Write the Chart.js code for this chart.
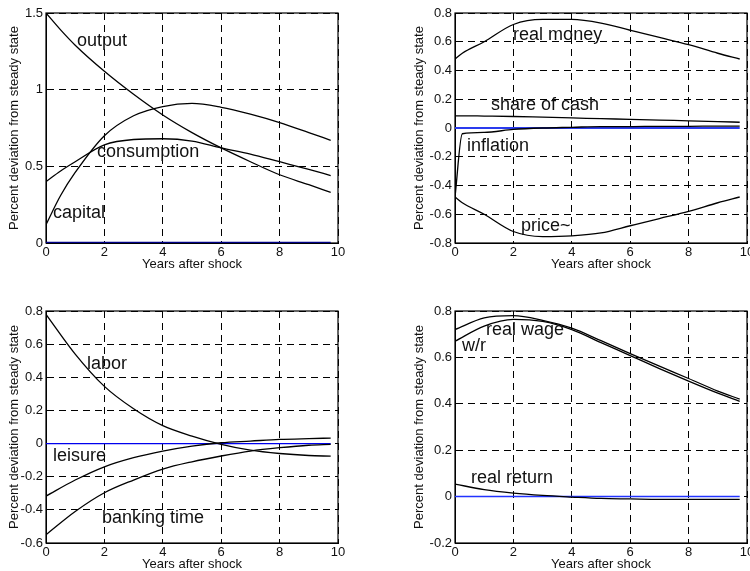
<!DOCTYPE html>
<html>
<head>
<meta charset="utf-8">
<script src="https://cdn.jsdelivr.net/npm/chart.js@4.4.1/dist/chart.umd.min.js"></script>
<style>
  html, body { margin: 0; padding: 0; background: #fff; overflow: hidden; width: 750px; height: 571px; }
  canvas { position: absolute; }
</style>
</head>
<body>
<canvas id="c1" style="left:0px;top:0px"></canvas>
<canvas id="c2" style="left:395px;top:0px"></canvas>
<canvas id="c3" style="left:0px;top:298px"></canvas>
<canvas id="c4" style="left:395px;top:298px"></canvas>
<script>
// ---- data (percent deviation from steady state, by year after shock) ----
const yearsA = [0, 0.5, 1, 2, 3, 4, 5, 6, 7, 8, 9, 9.75];
const output      = [1.5, 1.39, 1.29, 1.12, 0.97, 0.835, 0.72, 0.62, 0.53, 0.445, 0.38, 0.33];
const consumption = [0.40, 0.47, 0.53, 0.64, 0.675, 0.68, 0.665, 0.62, 0.58, 0.53, 0.48, 0.44];
const capital     = [0.12, 0.31, 0.46, 0.70, 0.83, 0.89, 0.91, 0.885, 0.84, 0.785, 0.72, 0.67];

const yearsB = [0, 0.25, 1, 2, 3, 4, 5, 6, 7, 8, 9, 9.75];
const realMoney   = [0.48, 0.52, 0.60, 0.72, 0.755, 0.755, 0.73, 0.68, 0.63, 0.58, 0.52, 0.48];
const shareCash   = [0.085, 0.085, 0.083, 0.08, 0.075, 0.07, 0.065, 0.06, 0.055, 0.05, 0.045, 0.04];
const inflation   = [-0.48, -0.04, -0.03, -0.01, 0.0, 0.005, 0.01, 0.01, 0.012, 0.012, 0.013, 0.013];
const price       = [-0.48, -0.52, -0.60, -0.72, -0.755, -0.75, -0.73, -0.68, -0.63, -0.58, -0.52, -0.48];

const yearsC = [0, 1, 2, 3, 4, 5, 6, 7, 8, 9, 9.75];
const labor       = [0.78, 0.54, 0.345, 0.21, 0.108, 0.045, -0.005, -0.04, -0.06, -0.072, -0.076];
const leisure     = [-0.317, -0.22, -0.14, -0.085, -0.045, -0.015, 0.005, 0.015, 0.025, 0.03, 0.033];
const banking     = [-0.55, -0.41, -0.297, -0.22, -0.154, -0.11, -0.075, -0.045, -0.025, -0.01, -0.005];

const yearsD = [0, 1, 2, 3, 4, 5, 6, 7, 8, 9, 9.75];
const realWage    = [0.72, 0.77, 0.78, 0.76, 0.726, 0.672, 0.616, 0.562, 0.509, 0.455, 0.42];
const wOverR      = [0.67, 0.735, 0.764, 0.755, 0.72, 0.664, 0.608, 0.552, 0.498, 0.446, 0.41];
const realReturn  = [0.054, 0.03, 0.015, 0.005, -0.002, -0.008, -0.01, -0.012, -0.012, -0.012, -0.012];

// curve names placed inside the plots: [text, year, value]
const notesA = [["output", 1.06, 1.32], ["consumption", 1.75, 0.594], ["capital", 0.24, 0.196]];
const notesB = [["real money", 1.99, 0.647], ["share of cash", 1.23, 0.16], ["inflation", 0.41, -0.125], ["price~", 2.26, -0.68]];
const notesC = [["labor", 1.40, 0.48], ["leisure", 0.24, -0.075], ["banking time", 1.92, -0.45]];
const notesD = [["real wage", 1.06, 0.718], ["w/r", 0.24, 0.649], ["real return", 0.55, 0.08]];

const FONT = "'Liberation Sans', Arial, sans-serif";

function pts(xs, ys) { return xs.map((x, i) => ({ x, y: ys[i] })); }

function makePanel(id, opts) {
  const el = document.getElementById(id);
  el.width = opts.w; el.height = opts.h;
  el.style.width = opts.w + "px"; el.style.height = opts.h + "px";

  const sets = opts.series.map(ys => ({
    data: pts(opts.years, ys),
    borderColor: "#000",
    borderWidth: 1.3,
    pointRadius: 0,
    cubicInterpolationMode: "monotone",
    fill: false,
  }));
  // steady state line
  sets.push({
    data: pts(opts.years, opts.years.map(() => 0)),
    borderColor: opts.zeroColor,
    borderWidth: opts.zeroWidth,
    pointRadius: 0,
    fill: false,
  });

  const notes = opts.notes;
  const extras = {
    id: "extras",
    beforeDatasetsDraw(chart) {
      // box round the plot area
      const { ctx, chartArea: a } = chart;
      ctx.save();
      ctx.strokeStyle = "#000";
      ctx.lineWidth = 1.2;
      ctx.strokeRect(a.left, a.top, a.right - a.left, a.bottom - a.top);
      ctx.restore();
    },
    afterDatasetsDraw(chart) {
      const { ctx, scales } = chart;
      ctx.save();
      ctx.fillStyle = "#111";
      ctx.font = "18px " + FONT;
      ctx.textAlign = "left";
      ctx.textBaseline = "middle";
      notes.forEach(([t, x, y]) => {
        ctx.fillText(t, scales.x.getPixelForValue(x), scales.y.getPixelForValue(y));
      });
      ctx.restore();
    },
  };

  return new Chart(el.getContext("2d"), {
    type: "line",
    data: { datasets: sets },
    plugins: [extras],
    options: {
      responsive: false,
      animation: false,
      layout: { padding: { top: 13, right: 20, bottom: 0, left: 0 } },
      plugins: { legend: { display: false }, tooltip: { enabled: false } },
      scales: {
        x: {
          type: "linear",
          min: 0, max: 10,
          afterFit: s => { s.height = 29; },
          ticks: { stepSize: 2, color: "#111", font: { family: FONT, size: 13 }, padding: 2, maxRotation: 0 },
          grid: { color: "#000", lineWidth: 1, drawTicks: false },
          border: { color: "#000", dash: [7, 5] },
          title: { display: true, text: "Years after shock", color: "#111",
                   font: { family: FONT, size: 13 }, padding: { top: 0, bottom: 0 } },
        },
        y: {
          min: opts.ymin, max: opts.ymax,
          afterFit: s => { s.width = opts.yw; },
          ticks: { stepSize: opts.step, color: "#111", font: { family: FONT, size: 13 }, padding: 3,
                   callback: v => String(+v.toFixed(1)) },
          grid: { color: "#000", lineWidth: 1, drawTicks: false },
          border: { color: "#000", dash: [7, 5] },
          title: { display: true, text: "Percent deviation from steady state", color: "#111",
                   font: { family: FONT, size: 13 }, padding: { top: opts.tp, bottom: 0 } },
        },
      },
    },
  });
}

makePanel("c1", { w: 358, h: 272, yw: 46, tp: 7, ymin: 0, ymax: 1.5, step: 0.5,
  years: yearsA, series: [output, consumption, capital], notes: notesA,
  zeroColor: "#000088", zeroWidth: 2.5 });
makePanel("c2", { w: 372, h: 272, yw: 60, tp: 17, ymin: -0.8, ymax: 0.8, step: 0.2,
  years: yearsB, series: [realMoney, shareCash, inflation, price], notes: notesB,
  zeroColor: "#2a3bee", zeroWidth: 2 });
makePanel("c3", { w: 358, h: 274, yw: 46, tp: 7, ymin: -0.6, ymax: 0.8, step: 0.2,
  years: yearsC, series: [labor, leisure, banking], notes: notesC,
  zeroColor: "#0000ee", zeroWidth: 1.2 });
makePanel("c4", { w: 372, h: 274, yw: 60, tp: 17, ymin: -0.2, ymax: 0.8, step: 0.2,
  years: yearsD, series: [realWage, wOverR, realReturn], notes: notesD,
  zeroColor: "#2233ff", zeroWidth: 1.5 });
</script>
</body>
</html>
